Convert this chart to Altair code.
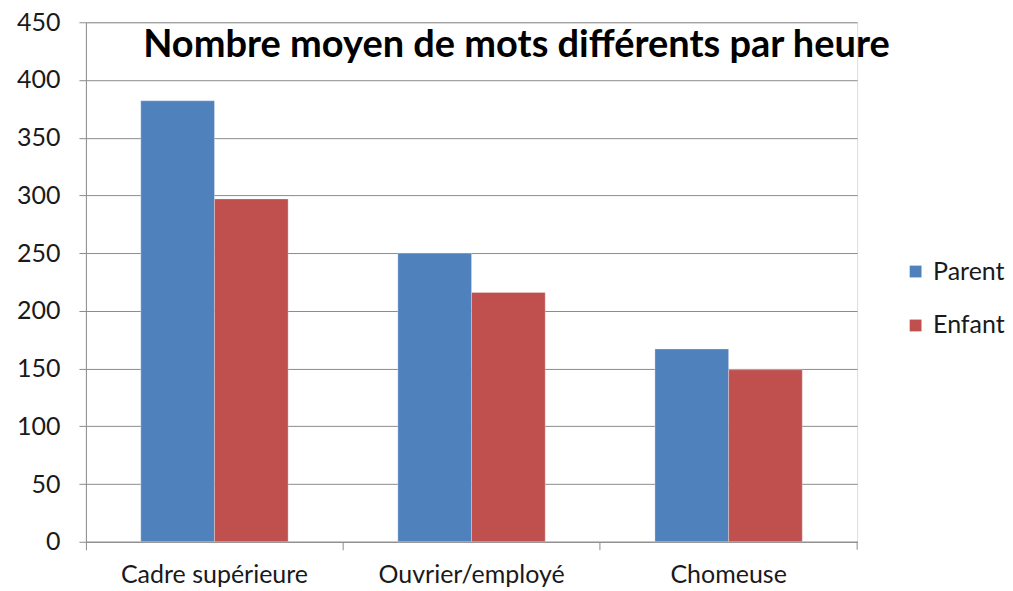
import altair as alt
import pandas as pd

categories = ["Cadre supérieure", "Ouvrier/employé", "Chomeuse"]
parent = [382, 250, 167]
enfant = [297, 216, 149]
series = ["Parent", "Enfant"]
colors = ["#4F81BD", "#C0504D"]
title_text = "Nombre moyen de mots différents par heure"
y_ticks = list(range(0, 451, 50))

rows = []
for c, p, e in zip(categories, parent, enfant):
    rows.append({"cat": c, "serie": "Parent", "val": p})
    rows.append({"cat": c, "serie": "Enfant", "val": e})
df = pd.DataFrame(rows)

W, H = 772, 520
FONT = "Lato"

bars = alt.Chart(df).mark_bar(stroke="#e8eef7", strokeWidth=0.6, strokeOpacity=0.6).encode(
    x=alt.X("cat:N", sort=categories, title=None,
            scale=alt.Scale(paddingInner=0, paddingOuter=0),
            axis=alt.Axis(labelAngle=0, labelFontSize=25, labelFont=FONT, labelColor="#1a1a1a",
                          labelPadding=13, labelLimit=400, tickSize=8, tickColor="#8c8c8c",
                          bandPosition=0, domainColor="#8c8c8c", grid=False)),
    xOffset=alt.XOffset("serie:N", sort=series,
                        scale=alt.Scale(paddingInner=0, paddingOuter=0.745)),
    y=alt.Y("val:Q", title=None,
            scale=alt.Scale(domain=[0, 450], nice=False),
            axis=alt.Axis(values=y_ticks, labelFontSize=25, labelFont=FONT, labelColor="#1a1a1a",
                          labelPadding=19, tickSize=7, tickColor="#8c8c8c", domainColor="#8c8c8c",
                          gridColor="#8c8c8c", gridWidth=1)),
    color=alt.Color("serie:N", sort=series, title=None,
                    scale=alt.Scale(domain=series, range=colors),
                    legend=alt.Legend(orient="none", legendX=818, legendY=237,
                                      symbolType="square", symbolSize=140, symbolStrokeWidth=0,
                                      labelFontSize=25, labelFont=FONT, labelColor="#1a1a1a",
                                      rowPadding=28, labelOffset=5)),
)

end_tick = alt.Chart(pd.DataFrame({"t": [0]})).mark_rule(color="#8c8c8c").encode(
    x=alt.value(W), y=alt.value(H), y2=alt.value(H + 8)
)

title = alt.Chart(pd.DataFrame({"t": [title_text]})).mark_text(
    font=FONT, fontSize=38, fontWeight="bold", color="black", align="center", baseline="middle"
).encode(text="t:N", x=alt.value(431), y=alt.value(24))

chart = alt.layer(bars, end_tick, title).properties(
    width=W, height=H,
    padding={"left": 8, "top": 2, "right": 0, "bottom": 0},
).configure_view(stroke=None).configure(background="white")

chart.save("out.html", embed_options={"renderer": "svg", "actions": False})
